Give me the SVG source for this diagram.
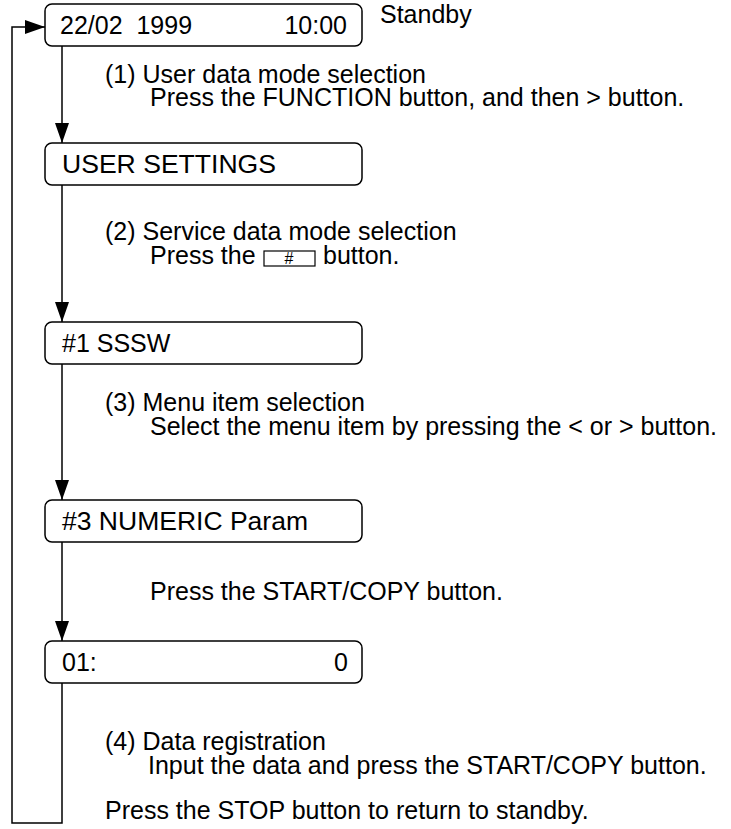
<svg xmlns="http://www.w3.org/2000/svg" width="731" height="829" viewBox="0 0 731 829">
<style>
text{font-family:"Liberation Sans",Arial,sans-serif;font-size:25px;fill:#000}
.box{fill:#fff;stroke:#000;stroke-width:1.5}
.ln{fill:none;stroke:#000;stroke-width:1.5}
.small{font-size:16px}
</style>
<defs>
<marker id="ah" markerWidth="20" markerHeight="14" refX="20" refY="7" orient="auto" markerUnits="userSpaceOnUse">
<path d="M0,0 L20,7 L0,14 Z" fill="#000"/>
</marker>
</defs>
<rect width="731" height="829" fill="#fff"/>
<g id="connectors">
<line class="ln" x1="62" y1="46" x2="62" y2="143" marker-end="url(#ah)"/>
<line class="ln" x1="62" y1="185" x2="62" y2="322" marker-end="url(#ah)"/>
<line class="ln" x1="62" y1="364" x2="62" y2="500" marker-end="url(#ah)"/>
<line class="ln" x1="62" y1="542" x2="62" y2="641" marker-end="url(#ah)"/>
<polyline class="ln" points="62,683 62,823 12,823 12,27 45,27" marker-end="url(#ah)"/>
</g>
<g id="standby">
<rect class="box" x="45" y="4" width="317" height="42" rx="7"/>
<text x="60" y="34" xml:space="preserve">22/02  1999</text>
<text x="347" y="34" text-anchor="end">10:00</text>
<text x="380" y="23">Standby</text>
</g>
<g id="step1">
<text x="105" y="83">(1) User data mode selection</text>
<text x="150" y="106">Press the FUNCTION button, and then &gt; button.</text>
</g>
<g id="user-settings">
<rect class="box" x="45" y="143" width="317" height="42" rx="7"/>
<text x="62" y="173" textLength="214" lengthAdjust="spacingAndGlyphs">USER SETTINGS</text>
</g>
<g id="step2">
<text x="105" y="240">(2) Service data mode selection</text>
<text x="150" y="264">Press the</text>
<rect x="264" y="251" width="51" height="15" fill="#fff" stroke="#000" stroke-width="1.2"/>
<text class="small" x="289" y="264" text-anchor="middle">#</text>
<text x="323" y="264">button.</text>
</g>
<g id="sssw">
<rect class="box" x="45" y="322" width="317" height="42" rx="7"/>
<text x="62" y="352">#1 SSSW</text>
</g>
<g id="step3">
<text x="105" y="411">(3) Menu item selection</text>
<text x="150" y="435">Select the menu item by pressing the &lt; or &gt; button.</text>
</g>
<g id="numeric">
<rect class="box" x="45" y="500" width="317" height="42" rx="7"/>
<text x="62" y="530" textLength="246" lengthAdjust="spacingAndGlyphs">#3 NUMERIC Param</text>
</g>
<g id="start">
<text x="150" y="600">Press the START/COPY button.</text>
</g>
<g id="data">
<rect class="box" x="45" y="641" width="317" height="42" rx="7"/>
<text x="62" y="671">01:</text>
<text x="348" y="671" text-anchor="end">0</text>
</g>
<g id="step4">
<text x="105" y="750">(4) Data registration</text>
<text x="148" y="774">Input the data and press the START/COPY button.</text>
<text x="105" y="819">Press the STOP button to return to standby.</text>
</g>
</svg>
